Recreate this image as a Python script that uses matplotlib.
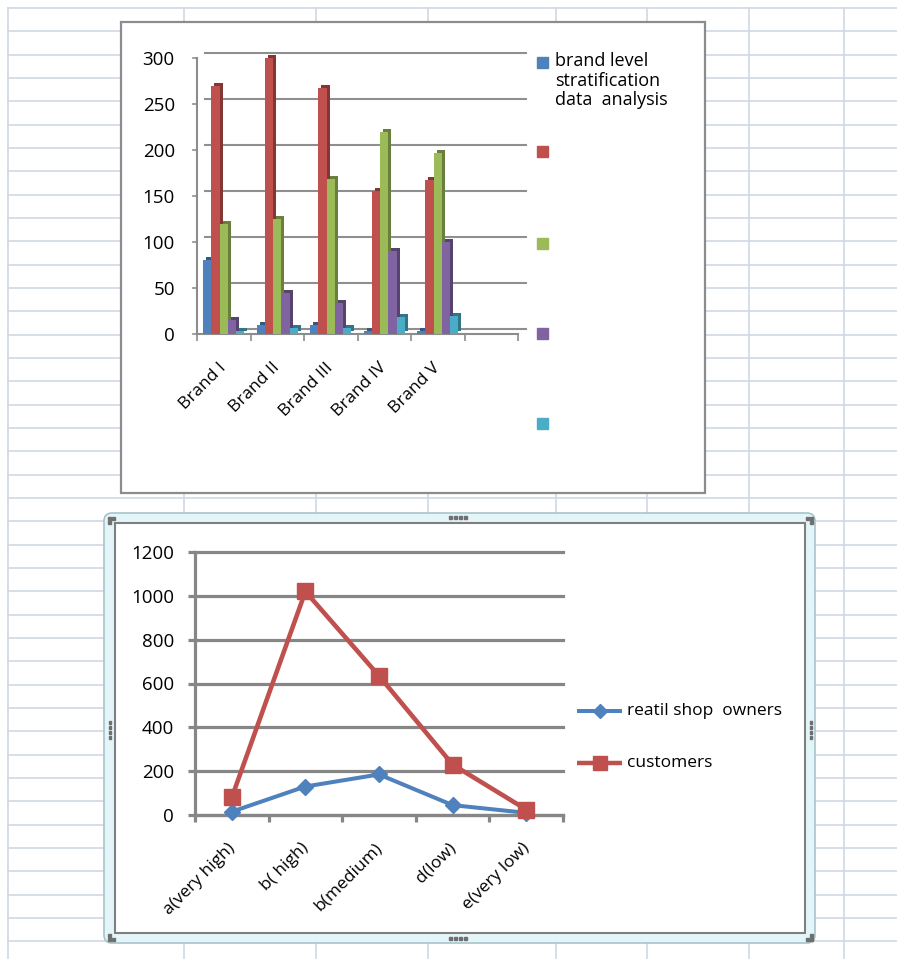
import matplotlib
matplotlib.use("Agg")
import matplotlib.pyplot as plt
import numpy as np
from matplotlib.patches import Rectangle, FancyBboxPatch
from matplotlib.transforms import ScaledTranslation

plt.rcParams['font.family'] = ['Open Sans', 'DejaVu Sans']

# ---- data: brand stratification (3-D style column chart) ----
brands = ["Brand I", "Brand II", "Brand III", "Brand IV", "Brand V"]
series_label = "brand level\nstratification\ndata  analysis"
blue_vals = [80, 10, 10, 3, 3]
red_vals = [270, 300, 267, 155, 167]
green_vals = [120, 125, 168, 220, 197]
purple_vals = [15, 45, 34, 90, 100]
cyan_vals = [3, 6, 7, 19, 20]

# ---- data: preference levels (line chart) ----
levels = ["a(very high)", "b( high)", "b(medium)", "d(low)", "e(very low)"]
retail_owners = [15, 130, 185, 45, 10]
customers = [80, 1020, 635, 230, 25]

BLUE, RED, GREEN, PURPLE, CYAN = '#4F81BD', '#C0504D', '#9BBB59', '#8064A2', '#4BACC6'

W, H, DPI = 897, 959, 100
fig = plt.figure(figsize=(W / DPI, H / DPI), dpi=DPI)
fig.patch.set_facecolor('white')

# ---- worksheet layer, pixel coordinates ----
bg = fig.add_axes([0, 0, 1, 1])
bg.set_xlim(0, W)
bg.set_ylim(H, 0)
bg.axis('off')
cell_c = '#d0d7e5'
for y in 8 + 23.33 * np.arange(0, 41):
    bg.plot([8, W], [y, y], color=cell_c, lw=1.2, zorder=0)
for x in [8, 184, 316, 428, 556, 647, 749, 844]:
    bg.plot([x, x], [8, H], color=cell_c, lw=1.2, zorder=0)

# top chart box
bg.add_patch(Rectangle((121, 22), 584, 471, facecolor='white',
                       edgecolor='#8c8c8c', lw=1.6, zorder=2))

# bottom chart box (selected frame)
bg.add_patch(FancyBboxPatch((104, 513), 711, 430,
                            boxstyle="round,pad=0,rounding_size=8",
                            facecolor='#e3f5f8', edgecolor='#a7c3cb',
                            lw=1.2, zorder=2))
bg.add_patch(Rectangle((115, 523), 690, 410, facecolor='white',
                       edgecolor='#7f7f7f', lw=1.5, zorder=3))
hc = '#6f6f6f'
for cx in [449, 454, 459, 464]:
    bg.add_patch(Rectangle((cx, 516), 2.5, 2.5, color=hc, zorder=4))
    bg.add_patch(Rectangle((cx, 937), 2.5, 2.5, color=hc, zorder=4))
for cy in [721, 726, 731, 736]:
    bg.add_patch(Rectangle((108.5, cy), 2.5, 2.5, color=hc, zorder=4))
    bg.add_patch(Rectangle((809.5, cy), 2.5, 2.5, color=hc, zorder=4))
for (cx, cy) in [(108, 517), (112, 517), (108, 521),
                 (806, 517), (810, 517), (810, 521),
                 (108, 934), (108, 938), (112, 938),
                 (810, 934), (806, 938), (810, 938)]:
    bg.add_patch(Rectangle((cx, cy), 2.5, 2.5, color=hc, zorder=4))

# top legend
leg_colors = [BLUE, RED, GREEN, PURPLE, CYAN]
leg_y = [62, 151, 243, 333, 423]
for c, y in zip(leg_colors, leg_y):
    bg.add_patch(Rectangle((537, y - 5.5), 11, 11, color=c, zorder=5))
bg.text(555, 52, series_label, fontsize=13, va='top', ha='left',
        linespacing=1.12, color='black', zorder=5)

# bottom legend
bg.plot([577, 622], [711, 711], color=BLUE, lw=2.9, zorder=5,
        solid_capstyle='butt')
bg.plot([599.5], [711], marker='D', color=BLUE, ms=7, zorder=6)
bg.text(627, 711, "reatil shop  owners", fontsize=12.5, va='center',
        ha='left', zorder=5)
bg.plot([577, 622], [763, 763], color=RED, lw=3.2, zorder=5,
        solid_capstyle='butt')
bg.plot([599.5], [763], marker='s', color=RED, ms=10, zorder=6)
bg.text(627, 763, "customers", fontsize=12.5, va='center', ha='left',
        zorder=5)

# ---- column chart ----
ax1 = fig.add_axes([197 / W, 1 - 334 / H, 321 / W, 276 / H])
ax1.set_zorder(3)
ax1.patch.set_alpha(0)
ax1.set_xlim(-0.5, 5.5)
ax1.set_ylim(0, 300)

gray = '#8c8c8c'
wall = ScaledTranslation(0.08, 0.05, fig.dpi_scale_trans)
for v in range(0, 301, 50):
    ax1.plot([0, 1], [v, v], transform=ax1.get_yaxis_transform() + wall,
             color='#8f8f8f', lw=1.5, clip_on=False, zorder=1)
    ax1.plot([-0.012, 0], [v, v], transform=ax1.get_yaxis_transform(),
             color=gray, lw=1.2, clip_on=False, zorder=1)

all_vals = [blue_vals, red_vals, green_vals, purple_vals, cyan_vals]
x = np.arange(len(brands))
bw = 0.155
depth = ScaledTranslation(0.03, 0.03, fig.dpi_scale_trans)


def darker(hexc, f=0.68):
    r, g, b = matplotlib.colors.to_rgb(hexc)
    return (r * f, g * f, b * f)


for i, (vals, c) in enumerate(zip(all_vals, leg_colors)):
    pos = x + (i - 2) * bw
    ax1.bar(pos, vals, bw, color=darker(c), transform=ax1.transData + depth,
            zorder=2 + i * 0.1, clip_on=False)
    ax1.bar(pos, vals, bw, color=c, zorder=3 + i * 0.1, clip_on=False)

for s in ['top', 'right']:
    ax1.spines[s].set_visible(False)
for s in ['left', 'bottom']:
    ax1.spines[s].set_color(gray)
    ax1.spines[s].set_linewidth(1.5)
ax1.set_yticks(range(0, 301, 50))
ax1.tick_params(axis='y', length=0, pad=16, labelsize=13.5, colors='black')
ax1.set_xticks(np.arange(-0.5, 5.6, 1))
ax1.set_xticklabels([])
ax1.tick_params(axis='x', which='major', length=5, color=gray, width=1.2)
ax1.set_xticks(x, minor=True)
ax1.set_xticklabels(brands, minor=True)
ax1.tick_params(axis='x', which='minor', length=0, pad=17, labelsize=12.5)
shift1 = ScaledTranslation(-0.06, -0.02, fig.dpi_scale_trans)
for lab in ax1.get_xticklabels(minor=True):
    lab.set_rotation(45)
    lab.set_ha('right')
    lab.set_rotation_mode('anchor')
    lab.set_transform(lab.get_transform() + shift1)

# ---- line chart ----
ax2 = fig.add_axes([195 / W, 1 - 815 / H, 368 / W, 263 / H])
ax2.set_zorder(4)
ax2.patch.set_alpha(0)
ax2.set_xlim(-0.5, 4.5)
ax2.set_ylim(0, 1200)
lgray = '#868686'
ax2.set_yticks(range(0, 1201, 200))
ax2.yaxis.grid(True, color=lgray, lw=2.3)
ax2.set_axisbelow(True)
for gl in ax2.get_ygridlines():
    gl.set_clip_on(False)
for s in ['top', 'right']:
    ax2.spines[s].set_visible(False)
for s in ['left', 'bottom']:
    ax2.spines[s].set_color(lgray)
    ax2.spines[s].set_linewidth(2.3)
ax2.tick_params(axis='y', length=5, width=2.3, color=lgray, pad=10,
                labelsize=13.5)
ax2.set_xticks(np.arange(-0.5, 4.6, 1))
ax2.set_xticklabels([])
ax2.tick_params(axis='x', which='major', length=5, width=2.3, color=lgray)
xl = np.arange(len(levels))
ax2.set_xticks(xl, minor=True)
ax2.set_xticklabels(levels, minor=True)
ax2.tick_params(axis='x', which='minor', length=0, pad=18, labelsize=12.5)
shift2 = ScaledTranslation(-0.05, 0, fig.dpi_scale_trans)
for lab in ax2.get_xticklabels(minor=True):
    lab.set_rotation(45)
    lab.set_ha('right')
    lab.set_rotation_mode('anchor')
    lab.set_transform(lab.get_transform() + shift2)

ax2.plot(xl, retail_owners, color=BLUE, lw=2.9, marker='D', ms=8,
         zorder=4, clip_on=False)
ax2.plot(xl, customers, color=RED, lw=3.3, marker='s', ms=11.5,
         zorder=5, clip_on=False)

fig.savefig("out.png", dpi=DPI)
